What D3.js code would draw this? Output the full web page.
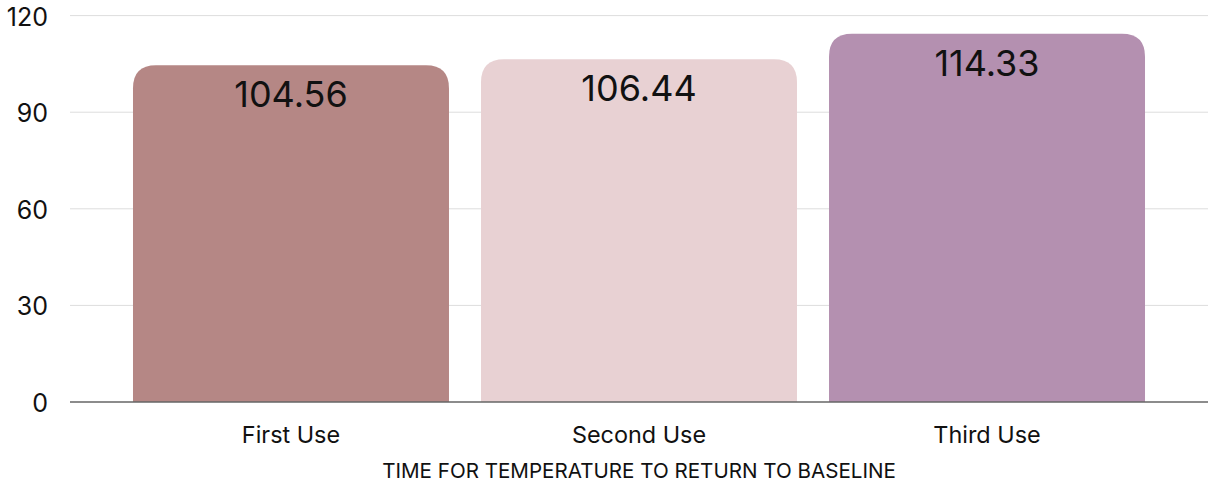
<!DOCTYPE html>
<html><head><meta charset="utf-8">
<script src="https://cdn.jsdelivr.net/npm/d3@7"></script>
<style>body{margin:0;background:#fff}svg{display:block}text{font-family:Inter,"Helvetica Neue",Arial,sans-serif}</style>
</head><body><svg id="c" width="1209" height="488"></svg>
<script>
const categories = ["First Use", "Second Use", "Third Use"];
const values = [104.56, 106.44, 114.33];
const colors = ["#b58785", "#e8d1d3", "#b490b0"];
const yTicks = [0, 30, 60, 90, 120];
const xTitle = "TIME FOR TEMPERATURE TO RETURN TO BASELINE";

const svg = d3.select("#c");
const mLeft = 70, mRight = 1208, mTop = 15.6, mBottom = 402;
const x = d3.scaleBand().domain(categories).range([mLeft, mRight]).paddingInner(0.092).paddingOuter(0.181);
const y = d3.scaleLinear().domain([0, 120]).range([mBottom, mTop]);

// gridlines
svg.append("g").selectAll("line").data(yTicks.filter(t => t > 0)).join("line")
  .attr("x1", mLeft).attr("x2", mRight).attr("y1", d => y(d)).attr("y2", d => y(d))
  .attr("stroke", "#dddddd").attr("stroke-width", 1);

// y tick labels
svg.append("g").selectAll("text").data(yTicks).join("text")
  .attr("x", 48).attr("y", d => y(d) + 1).attr("dy", "0.36em")
  .attr("text-anchor", "end").attr("font-size", 25).attr("fill", "#111")
  .text(d => d);

// bars with rounded top
const r = 23;
function barPath(x0, w, yt, yb) {
  const rr = Math.min(r, (yb - yt), w / 2);
  return `M${x0},${yb}V${yt + rr}Q${x0},${yt} ${x0 + rr},${yt}H${x0 + w - rr}Q${x0 + w},${yt} ${x0 + w},${yt + rr}V${yb}Z`;
}
svg.append("g").selectAll("path").data(categories).join("path")
  .attr("d", (d, i) => barPath(x(d), x.bandwidth(), y(values[i]), y(0)))
  .attr("fill", (d, i) => colors[i]);

// axis line
svg.append("line").attr("x1", mLeft).attr("x2", mRight).attr("y1", y(0)).attr("y2", y(0))
  .attr("stroke", "#666").attr("stroke-width", 1.5);

// value labels
svg.append("g").selectAll("text").data(categories).join("text")
  .attr("x", d => x(d) + x.bandwidth() / 2).attr("y", (d, i) => y(values[i]) + 42)
  .attr("text-anchor", "middle").attr("font-size", 36).attr("fill", "#111")
  .text((d, i) => values[i].toFixed(2));

// category labels
svg.append("g").selectAll("text").data(categories).join("text")
  .attr("x", d => x(d) + x.bandwidth() / 2).attr("y", 443)
  .attr("text-anchor", "middle").attr("font-size", 23.4).attr("fill", "#111")
  .text(d => d);

svg.append("text").attr("x", (mLeft + mRight) / 2).attr("y", 478)
  .attr("text-anchor", "middle").attr("font-size", 20.6).attr("fill", "#111")
  .text(xTitle);
</script></body></html>
